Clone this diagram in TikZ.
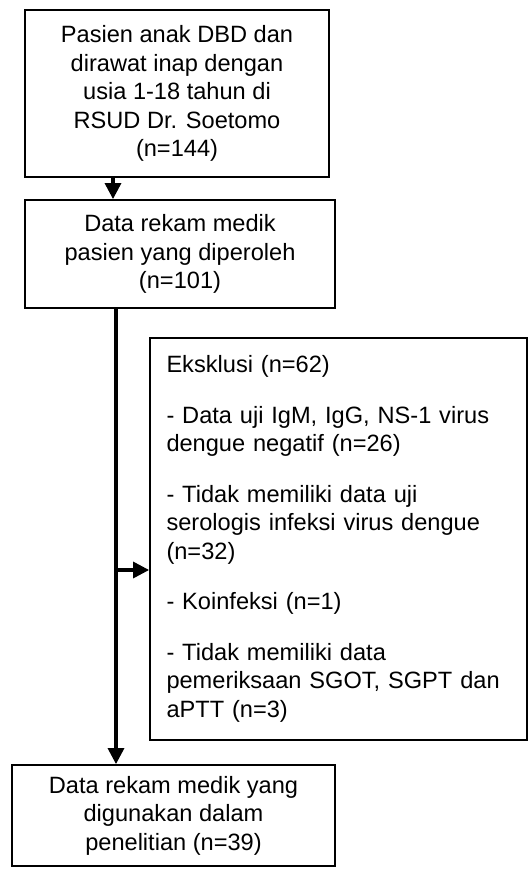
\documentclass[tikz,border=0pt]{standalone}
\usepackage{fontspec}
\setmainfont{Liberation Sans}
\usetikzlibrary{arrows.meta}
\tikzstyle{block} = [rectangle, draw=black, line width=0.9pt, align=center, inner sep=0pt, font=\fontsize{11.8}{14.25}\selectfont]
\tikzstyle{excl} = [rectangle, draw=black, line width=0.9pt, align=left, text width=172pt, inner xsep=8.25pt, inner ysep=0pt, font=\fontsize{11.8}{14.25}\selectfont]
\tikzstyle{arrow} = [line width=1.6pt, -{Triangle[length=8pt, width=8pt]}]

\begin{document}
\begin{tikzpicture}[x=0.5pt, y=-0.5pt]
	\useasboundingbox (0,0) rectangle (529,872);

	\node (pasien) [block, minimum width=152pt, minimum height=83.5pt] at (177,93.5) {Pasien anak DBD dan\\ dirawat inap dengan\\ usia 1-18 tahun di\\ RSUD Dr. Soetomo\\ (n=144)};
	\node (data) [block, minimum width=155pt, minimum height=54pt] at (180,254) {Data rekam medik\\ pasien yang diperoleh\\ (n=101)};

	\path (pasien.south) ++(-32pt,0) coordinate (p1);
	\draw [arrow] (p1) -- (p1 |- data.north);

	\node (eksklusi) [excl, minimum height=201pt] at (338.5,539) {Eksklusi (n=62)\\[11pt]
		- Data uji IgM, IgG, NS-1 virus\\ dengue negatif (n=26)\\[11pt]
		- Tidak memiliki data uji\\ serologis infeksi virus dengue\\ (n=32)\\[11pt]
		- Koinfeksi (n=1)\\[11pt]
		- Tidak memiliki data\\ pemeriksaan SGOT, SGPT dan\\ aPTT (n=3)};

	\node (hasil) [block, minimum width=161.5pt, minimum height=50.5pt] at (173.5,815.5) {Data rekam medik yang\\ digunakan dalam\\ penelitian (n=39)};

	\coordinate (split) at (116,570);
	\draw [arrow] (data.south -| split) -- (hasil.north -| split);
	\draw [arrow] (split) -- (eksklusi.west |- split);
\end{tikzpicture}
\end{document}
